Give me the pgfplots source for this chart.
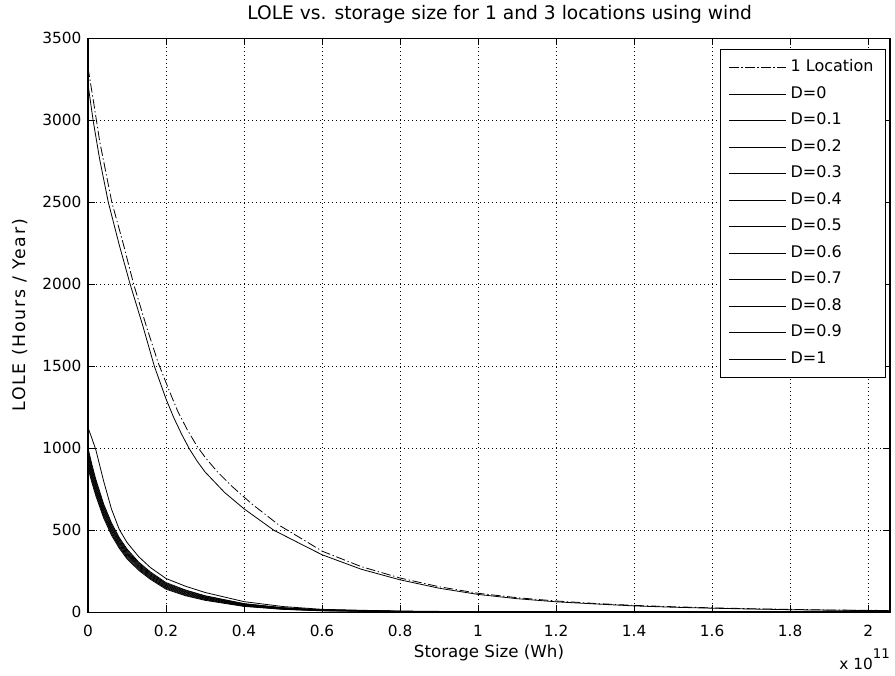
\documentclass[border=0pt]{standalone}
\usepackage{pgfplots}
\usepackage{pgfplotstable}
\pgfplotsset{compat=1.18}
\usepackage{fontspec}
\setmainfont{DejaVu Sans}

% lower bundle: D=0.1 ... D=1 (x in units of 1e11 Wh)
\pgfplotstableread{
x      d01  d02  d03  d04  d05  d06  d07  d08  d09  d10
0      1125 1000 985  970  955  940  925  910  895  880
0.01   1060 900  886  872  859  845  831  817  804  790
0.02   990  810  798  785  772  760  748  735  722  710
0.04   800  660  649  639  628  618  607  596  586  575
0.06   630  545  536  526  517  508  498  489  479  470
0.08   505  455  447  439  431  423  414  406  398  390
0.1    425  385  378  370  363  355  348  340  333  325
0.13   338  305  299  292  286  280  274  268  261  255
0.16   272  245  239  234  228  223  217  211  206  200
0.2    205  180  175  170  165  160  155  150  145  140
0.25   158  135  131  126  122  118  113  109  104  100
0.3    120  100  97   93   90   86   83   79   76   72
0.4    64   52   50   48   46   44   41   39   37   35
0.5    34   27   26   25   23   22   21   20   18   17
0.6    17   14   13   13   12   11   10   10   9    8
0.8    6    5    5    5    4    4    4    3    3    3
1.0    3    2    2    2    2    1.5  1.5  1    1    1
1.4    1    1    1    1    1    1    0.5  0.5  0.5  0.5
1.8    0.5  0.5  0.5  0.5  0.5  0.3  0.3  0.2  0.1  0
2.056  0    0    0    0    0    0    0    0    0    0
}\lowtab

\begin{document}
\fontsize{11.5}{13.8}\selectfont
\begin{tikzpicture}
\begin{axis}[
  scale only axis, width=601.5pt, height=430.5pt,
  xmin=0, xmax=2.056, ymin=0, ymax=3500,
  xtick={0,0.2,0.4,0.6,0.8,1,1.2,1.4,1.6,1.8,2},
  xticklabels={0,0.2,0.4,0.6,0.8,1,1.2,1.4,1.6,1.8,2},
  ytick={0,500,1000,1500,2000,2500,3000,3500},
  yticklabels={0,500,1000,1500,2000,2500,3000,3500},
  tick align=inside, xtick pos=both, ytick pos=both,
  major tick length=5pt,
  tick style={black, line width=0.6pt},
  axis line style={black, line width=0.8pt},
  grid=major,
  major grid style={black, line width=0.5pt, dash pattern=on 0.75pt off 2.25pt},
  xticklabel style={yshift=-5.5pt},
  yticklabel style={xshift=-1pt},
  title={LOLE vs. storage size for 1 and 3 locations using wind},
  title style={at={(axis description cs:0.5,1)}, anchor=center, yshift=12pt, xshift=8pt, font=\fontsize{14}{16}\selectfont},
  xlabel={Storage Size (Wh)},
  xlabel style={at={(axis description cs:0.5,0)}, anchor=center, yshift=-30.75pt, font=\fontsize{12.5}{15}\selectfont},
  ylabel={LOLE (Hours / Year)},
  ylabel style={at={(axis description cs:-0.0848,0.517)}, anchor=center, font=\fontsize{13}{15}\selectfont\addfontfeatures{LetterSpace=10}},
  legend cell align=left,
  legend image code/.code={\draw[#1] (0pt,0pt) -- (42.75pt,0pt);},
  legend style={at={(1,1)}, anchor=north east, xshift=-3pt, yshift=-8.25pt,
    draw=black, line width=0.6pt, inner xsep=6pt, inner ysep=3.5pt, row sep=0pt,
    font=\fontsize{12}{14}\selectfont,
    nodes={inner xsep=3pt, inner ysep=0pt, text height=13pt, text depth=6.9pt}},
  cl/.style={black, solid, no marks, line width=0.6pt},
]
\addplot[cl, dash pattern=on 7pt off 2pt on 1pt off 2pt] coordinates {
(0,3320) (0.015,3100) (0.03,2870) (0.061,2500) (0.09,2250) (0.117,2000)
(0.15,1740) (0.18,1520) (0.21,1340) (0.23,1225) (0.255,1110) (0.28,1010)
(0.3,945) (0.33,860) (0.37,765) (0.42,660) (0.49,530) (0.56,430) (0.6,372)
(0.7,278) (0.8,208) (0.9,155) (1.0,115) (1.1,88) (1.2,68) (1.3,53) (1.4,41)
(1.5,33) (1.6,26) (1.7,21) (1.8,17) (1.9,13) (2.0,11) (2.056,10)};
\addlegendentry{1 Location}
\addplot[cl] coordinates {
(0,3220) (0.013,3000) (0.03,2760) (0.052,2500) (0.08,2240) (0.108,2000)
(0.14,1750) (0.17,1500) (0.2,1300) (0.22,1185) (0.24,1085) (0.26,995)
(0.28,920) (0.3,855) (0.35,730) (0.4,630) (0.476,500) (0.55,410) (0.6,350)
(0.7,262) (0.8,197) (0.9,146) (1.0,108) (1.1,82) (1.2,63) (1.3,50) (1.4,38)
(1.5,30) (1.6,24) (1.7,19) (1.8,15) (1.9,12) (2.0,10) (2.056,9)};
\addlegendentry{D=0}
\addplot[cl] table[x=x, y=d01] {\lowtab}; \addlegendentry{D=0.1}
\addplot[cl] table[x=x, y=d02] {\lowtab}; \addlegendentry{D=0.2}
\addplot[cl] table[x=x, y=d03] {\lowtab}; \addlegendentry{D=0.3}
\addplot[cl] table[x=x, y=d04] {\lowtab}; \addlegendentry{D=0.4}
\addplot[cl] table[x=x, y=d05] {\lowtab}; \addlegendentry{D=0.5}
\addplot[cl] table[x=x, y=d06] {\lowtab}; \addlegendentry{D=0.6}
\addplot[cl] table[x=x, y=d07] {\lowtab}; \addlegendentry{D=0.7}
\addplot[cl] table[x=x, y=d08] {\lowtab}; \addlegendentry{D=0.8}
\addplot[cl] table[x=x, y=d09] {\lowtab}; \addlegendentry{D=0.9}
\addplot[cl] table[x=x, y=d10] {\lowtab}; \addlegendentry{D=1}
\end{axis}
\node[anchor=base east, inner sep=0pt] at ([yshift=-42.75pt]current axis.south east)
  {x 10\raisebox{8pt}{\fontsize{10}{12}\selectfont 11}};
\path ([xshift=-66pt,yshift=-47.25pt]current axis.south west) rectangle ([xshift=3.75pt,yshift=28.5pt]current axis.north east);
\end{tikzpicture}
\end{document}
